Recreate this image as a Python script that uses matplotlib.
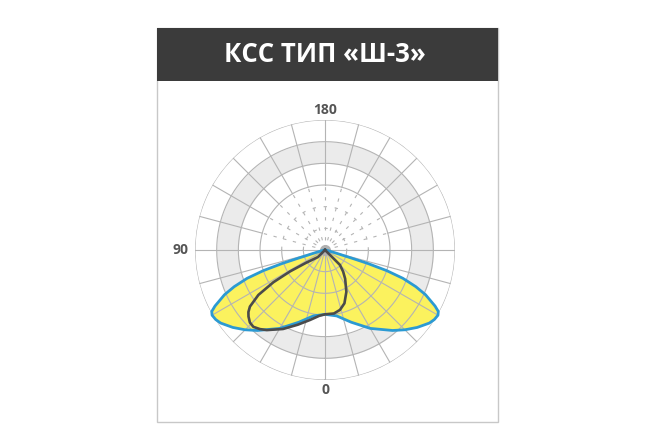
import matplotlib
matplotlib.use("Agg")
import matplotlib.pyplot as plt
import numpy as np
from matplotlib.patches import Rectangle

plt.rcParams["font.family"] = ["Open Sans", "DejaVu Sans"]

# ── Data: luminous intensity curves (angle deg, radius in ring units) ──
# left of the nadir is positive (label 90 sits on the left)
blue_theta = [90, 80, 74, 73, 72.5, 71.5, 70, 68, 66, 63, 61.5, 60, 57.5, 55, 50, 45, 40, 30, 20, 10, 0,
              -10, -20, -30, -40, -45, -50, -55, -57.5, -60, -61.5, -63, -66, -68, -70, -71.5, -72.5, -73, -74, -80, -90]
blue_r = [0, 0.09, 0.55, 1.29, 2.08, 3.0, 3.83, 4.52, 5.08, 5.70, 5.95, 6.02, 5.98, 5.88, 5.56, 5.21, 4.85, 4.18, 3.55, 3.09, 2.97,
          3.09, 3.55, 4.18, 4.85, 5.21, 5.56, 5.88, 5.98, 6.02, 5.95, 5.70, 5.08, 4.52, 3.83, 3.0, 2.08, 1.29, 0.55, 0.09, 0]

dark_theta = [-45, -45, -40, -35, -27, -20, -14, -8, 0, 5, 12, 20, 28, 36, 39.5, 43, 46, 49, 51, 53, 56, 58, 58.5, 56, 45, 45]
dark_r = [0, 0.97, 1.30, 1.62, 2.17, 2.62, 2.85, 2.96, 2.97, 3.05, 3.30, 3.67, 4.13, 4.57, 4.73, 4.85, 4.82, 4.68, 4.55, 4.34,
          3.71, 2.81, 1.89, 1.06, 0.46, 0]

ring_values = [1, 2, 3, 4, 5, 6]
spoke_step = 15
angle_labels = {"180": 180, "90": 90, "0": 0}

GRID = "#b4b4b4"

fig = plt.figure(figsize=(6.6, 4.4), dpi=100)

# frame + header
fig.patches.append(Rectangle((0.2379, 0.0409), 0.5167, 0.8955, transform=fig.transFigure,
                             facecolor="white", edgecolor="#c8c8c8", lw=1.0, zorder=-2))
fig.patches.append(Rectangle((0.2379, 0.8159), 0.5167, 0.1205, transform=fig.transFigure,
                             facecolor="#3b3b3b", edgecolor="none", zorder=-1))
fig.text(0.4924, 0.8757, "КСС ТИП «Ш-3»", color="white", fontsize=18.5, fontweight="bold",
         ha="center", va="center")

ax = fig.add_axes([0.2955, 0.1364, 0.3939, 0.5909], projection="polar")
ax.set_theta_zero_location("S")
ax.set_theta_direction(-1)
ax.set_ylim(0, 6)
ax.set_xticks([])
ax.set_yticks([])
ax.grid(False)
ax.spines["polar"].set_visible(False)
ax.patch.set_alpha(0)

full = np.linspace(0, 2 * np.pi, 361)
# grey band between rings 4 and 5
ax.fill_between(full, 4, 5, color="#ebebeb", lw=0, zorder=0)

# yellow lobe
bt = np.deg2rad(blue_theta)
ax.fill(bt, blue_r, color="#fbf25e", lw=0, zorder=1)

# grid: rings (upper inner part is broken/dashed)
upper = np.linspace(np.pi / 2, 3 * np.pi / 2, 181)
lower = np.linspace(-np.pi / 2, np.pi / 2, 181)
for rv in ring_values:
    if rv <= 2:
        ax.plot(lower, [rv] * len(lower), color=GRID, lw=0.8, zorder=2)
        ax.plot(upper, [rv] * len(upper), color=GRID, lw=0.8, ls=(0, (3, 7)), zorder=2)
    else:
        ax.plot(full, [rv] * len(full), color=GRID, lw=0.8, zorder=2)

# grid: spokes
for a in range(0, 360, spoke_step):
    t = np.deg2rad(a)
    if 90 < a < 270:
        ax.plot([t, t], [0, 3], color=GRID, lw=0.8, ls=(0, (3, 6)), zorder=2)
        ax.plot([t, t], [3, 6], color=GRID, lw=0.8, zorder=2)
    else:
        ax.plot([t, t], [0, 6], color=GRID, lw=0.8, zorder=2)

ax.plot([0], [0], "o", color="#b0b0b0", ms=7, zorder=2)

# curves
ax.plot(bt, blue_r, color="#2b9ad3", lw=2.0, zorder=3, clip_on=False)
ax.plot(np.deg2rad(dark_theta), dark_r, color="#4b4b4b", lw=1.9, zorder=4, clip_on=False)

for txt, a in angle_labels.items():
    rr = 6.67 if a == 90 else 6.46
    ax.text(np.deg2rad(a), rr, txt, ha="center", va="center", fontsize=10, fontweight="bold",
            color="#555555")

fig.savefig("out.png", dpi=100)
